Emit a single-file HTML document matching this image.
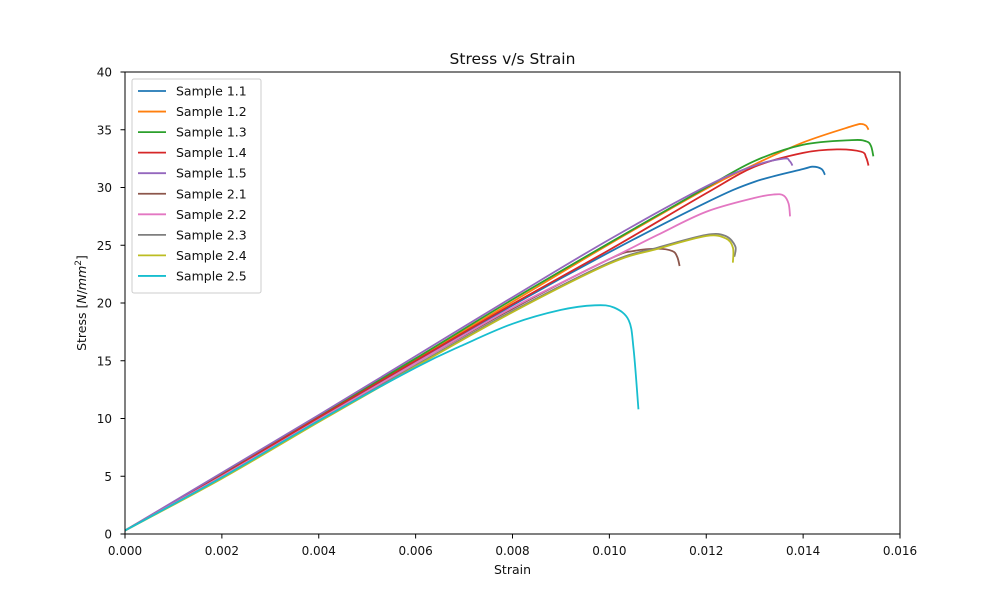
<!DOCTYPE html>
<html><head><meta charset="utf-8">
<style>
body{margin:0;background:#fff;}
svg{display:block;font-family:"DejaVu Sans","Liberation Sans",sans-serif;}
</style></head>
<body>
<svg id="chart" width="1000" height="600" viewBox="0 0 1000 600" xmlns="http://www.w3.org/2000/svg">
<rect width="1000" height="600" fill="#fff"/>
<text x="512.5" y="64" font-size="15.5" text-anchor="middle" fill="#111">Stress v/s Strain</text>
<g id="plot"></g>
<rect x="125" y="72" width="775" height="462" fill="none" stroke="#000" stroke-width="1"/>
<g id="xticks"></g><g id="yticks"></g>
<text x="512.5" y="574" font-size="12.5" text-anchor="middle" fill="#111">Strain</text>
<text transform="translate(86,303) rotate(-90)" font-size="12.5" text-anchor="middle" fill="#111">Stress [<tspan font-style="italic">N</tspan>/<tspan font-style="italic">mm</tspan><tspan baseline-shift="super" font-size="9">2</tspan>]</text>
<g id="legend"></g>
</svg>
<script>
const xTicks=[0,0.002,0.004,0.006,0.008,0.010,0.012,0.014,0.016];
const xTickLabels=["0.000","0.002","0.004","0.006","0.008","0.010","0.012","0.014","0.016"];
const yTicks=[0,5,10,15,20,25,30,35,40];
const seriesNames=["Sample 1.1","Sample 1.2","Sample 1.3","Sample 1.4","Sample 1.5","Sample 2.1","Sample 2.2","Sample 2.3","Sample 2.4","Sample 2.5"];
const colors=["#1f77b4","#ff7f0e","#2ca02c","#d62728","#9467bd","#8c564b","#e377c2","#7f7f7f","#bcbd22","#17becf"];
const s11x=[0,0.002,0.004,0.006,0.008,0.010,0.012,0.013,0.014,0.0142,0.01438,0.01445];
const s11y=[0.3,5.1,10,14.9,19.8,24.4,28.7,30.5,31.6,31.8,31.6,31.1];
const s12x=[0,0.002,0.004,0.006,0.008,0.010,0.012,0.013,0.014,0.015,0.0152,0.0153,0.01535];
const s12y=[0.3,5.1,10.1,15.1,20.1,25.1,29.9,32,33.9,35.3,35.5,35.35,35.0];
const s13x=[0,0.002,0.004,0.006,0.008,0.010,0.012,0.013,0.014,0.015,0.0153,0.0154,0.01545];
const s13y=[0.3,5.2,10.2,15.2,20.3,25.2,30,32.3,33.7,34.1,34,33.6,32.7];
const s14x=[0,0.002,0.004,0.006,0.008,0.010,0.012,0.013,0.014,0.0147,0.0152,0.0153,0.01535];
const s14y=[0.3,5.1,10.1,15.0,19.9,24.6,29.5,31.8,33.0,33.3,33.1,32.6,31.9];
const s15x=[0,0.002,0.004,0.006,0.008,0.010,0.012,0.013,0.0136,0.01372,0.01378];
const s15y=[0.3,5.3,10.3,15.4,20.5,25.5,30.1,31.9,32.5,32.3,31.9];
const s21x=[0,0.002,0.004,0.006,0.008,0.010,0.0105,0.011,0.0113,0.0114,0.01145];
const s21y=[0.3,5,9.9,14.8,19.5,23.8,24.5,24.7,24.5,24.0,23.2];
const s22x=[0,0.002,0.004,0.006,0.008,0.010,0.011,0.012,0.013,0.0134,0.0136,0.01370,0.01373];
const s22y=[0.3,5,9.9,14.8,19.6,23.8,25.9,27.9,29.1,29.4,29.3,28.6,27.5];
const s23x=[0,0.002,0.004,0.006,0.008,0.010,0.011,0.012,0.0124,0.0126,0.01258];
const s23y=[0.3,4.9,9.8,14.6,19.3,23.5,24.8,25.9,25.8,24.9,24.0];
const s24x=[0,0.002,0.004,0.006,0.008,0.010,0.011,0.012,0.0124,0.01255,0.01255];
const s24y=[0.3,4.8,9.7,14.5,19.2,23.4,24.7,25.8,25.6,24.8,23.5];
const s25x=[0,0.002,0.004,0.006,0.007,0.008,0.009,0.0097,0.0101,0.0104,0.0105,0.0106];
const s25y=[0.3,4.9,9.8,14.4,16.4,18.2,19.4,19.8,19.6,18.5,16,10.8];
const seriesX=[s11x,s12x,s13x,s14x,s15x,s21x,s22x,s23x,s24x,s25x];
const seriesY=[s11y,s12y,s13y,s14y,s15y,s21y,s22y,s23y,s24y,s25y];

const NS="http://www.w3.org/2000/svg";
const L=125,R=900,T=72,B=534;
const xs=v=>L+(v-0)/(0.016-0)*(R-L);
const ys=v=>B-(v-0)/(40-0)*(B-T);
function mk(t,a,p){const e=document.createElementNS(NS,t);for(const k in a)e.setAttribute(k,a[k]);p.appendChild(e);return e;}

const xg=document.getElementById('xticks');
xTicks.forEach((v,i)=>{
  const l=mk('line',{x1:xs(v),x2:xs(v),y1:B,y2:B+4.5,stroke:'#000','stroke-width':1},xg);
  
  
  const t=mk('text',{x:xs(v),y:B+21,'font-size':12,'text-anchor':'middle',fill:'#111'},xg);
  
  
  t.textContent=xTickLabels[i];
});
const yg=document.getElementById('yticks');
yTicks.forEach(v=>{
  const l=mk('line',{x1:L-4.5,x2:L,y1:ys(v),y2:ys(v),stroke:'#000','stroke-width':1},yg);
  
  
  const t=mk('text',{x:L-13,y:ys(v)+4.5,'font-size':12,'text-anchor':'end',fill:'#111'},yg);
  
  
  t.textContent=String(v);
});

function pathD(X,Y){
  const p=X.map((x,i)=>[xs(x),ys(Y[i])]);
  let d='M'+p[0][0]+','+p[0][1];
  for(let i=0;i<p.length-1;i++){
    const p0=p[Math.max(0,i-1)],p1=p[i],p2=p[i+1],p3=p[Math.min(p.length-1,i+2)];
    const c1=[p1[0]+(p2[0]-p0[0])/6,p1[1]+(p2[1]-p0[1])/6];
    const c2=[p2[0]-(p3[0]-p1[0])/6,p2[1]-(p3[1]-p1[1])/6];
    d+=' C'+c1[0]+','+c1[1]+' '+c2[0]+','+c2[1]+' '+p2[0]+','+p2[1];
  }
  return d;
}
const pg=document.getElementById('plot');
seriesX.forEach((X,i)=>{
  const e=mk('path',{d:pathD(X,seriesY[i]),fill:'none',stroke:colors[i],'stroke-width':1.8},pg);
  
  
});

const lg=document.getElementById('legend');
const box=mk('rect',{x:132,y:79,width:129,height:214,rx:2,fill:'#fff','fill-opacity':0.8,stroke:'#ccc','stroke-width':1},lg);


seriesNames.forEach((n,i)=>{
  const y=91+i*20.55;
  const l=mk('line',{x1:138,x2:166,y1:y,y2:y,stroke:colors[i],'stroke-width':1.8},lg);
  
  
  const t=mk('text',{x:176,y:y+4.5,'font-size':12.5,fill:'#111'},lg);
  
  
  t.textContent=n;
});
</script>
</body></html>
